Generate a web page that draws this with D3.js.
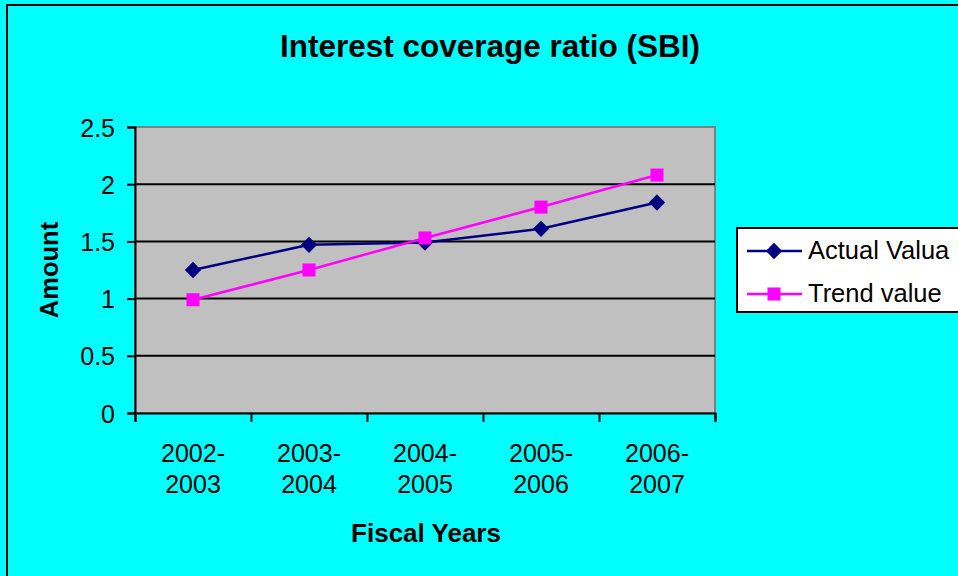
<!DOCTYPE html>
<html>
<head>
<meta charset="utf-8">
<script src="https://cdn.jsdelivr.net/npm/d3@7"></script>
<style>
  html, body { margin: 0; padding: 0; background: #00ffff; overflow: hidden; }
  svg { display: block; font-family: "Liberation Sans", Arial, sans-serif; }
</style>
</head>
<body>
<script>
var categories = ['2002-2003', '2003-2004', '2004-2005', '2005-2006', '2006-2007'];
var actualValues = [1.25, 1.47, 1.49, 1.61, 1.84];
var trendValues = [0.99, 1.25, 1.53, 1.80, 2.08];
var yTicks = [0, 0.5, 1, 1.5, 2, 2.5];
var seriesNames = ['Actual Valua', 'Trend value'];

var width = 958, height = 576;
var plot = { left: 135, right: 715, top: 127, bottom: 413 };

var svg = d3.select('body').append('svg')
    .attr('width', width)
    .attr('height', height);

// chart frame (runs off the right and bottom edge)
svg.append('rect')
    .attr('x', 7).attr('y', 5)
    .attr('width', 1000).attr('height', 700)
    .attr('fill', '#00ffff')
    .attr('stroke', '#000')
    .attr('stroke-width', 2);

var x = d3.scaleBand()
    .domain(categories)
    .range([plot.left, plot.right]);

var xEdge = d3.scaleLinear()
    .domain([0, categories.length])
    .range([plot.left, plot.right]);

var y = d3.scaleLinear()
    .domain([0, 2.5])
    .range([plot.bottom, plot.top]);

// plot area
svg.append('rect')
    .attr('x', plot.left).attr('y', plot.top)
    .attr('width', plot.right - plot.left)
    .attr('height', plot.bottom - plot.top)
    .attr('fill', '#c0c0c0')
    .attr('stroke', '#808080')
    .attr('stroke-width', 2);

// gridlines
svg.append('g')
    .selectAll('line')
    .data(yTicks.filter(d => d > 0 && d < 2.5))
    .enter().append('line')
    .attr('x1', plot.left).attr('x2', plot.right)
    .attr('y1', d => y(d)).attr('y2', d => y(d))
    .attr('stroke', '#000')
    .attr('stroke-width', 2);

// y axis
var yAxis = svg.append('g')
    .attr('transform', `translate(${plot.left},0)`)
    .call(d3.axisLeft(y).tickValues(yTicks).tickSize(8).tickPadding(12)
        .tickFormat(d => String(d)));
yAxis.select('.domain').attr('stroke', '#000').attr('stroke-width', 2);
yAxis.selectAll('.tick line').attr('stroke', '#000').attr('stroke-width', 2);
yAxis.selectAll('.tick text')
    .style('font-size', '25px')
    .attr('fill', '#000')
    .attr('dy', '0.36em');

// x axis: ticks between categories
var xAxis = svg.append('g')
    .attr('transform', `translate(0,${plot.bottom})`)
    .call(d3.axisBottom(xEdge).ticks(categories.length).tickSize(9).tickFormat(''));
xAxis.select('.domain').attr('stroke', '#000').attr('stroke-width', 2);
xAxis.selectAll('.tick line').attr('stroke', '#000').attr('stroke-width', 2);

// category labels, two lines each
var catLabel = svg.append('g')
    .selectAll('text')
    .data(categories)
    .enter().append('text')
    .attr('text-anchor', 'middle')
    .style('font-size', '25px')
    .attr('fill', '#000');
catLabel.append('tspan')
    .attr('x', d => x(d) + x.bandwidth() / 2)
    .attr('y', 462)
    .text(d => d.split('-')[0] + '-');
catLabel.append('tspan')
    .attr('x', d => x(d) + x.bandwidth() / 2)
    .attr('y', 493)
    .text(d => d.split('-')[1]);

// title and axis titles
svg.append('text')
    .attr('x', 490).attr('y', 57)
    .attr('text-anchor', 'middle')
    .style('font-size', '31.5px')
    .style('font-weight', 'bold')
    .text('Interest coverage ratio (SBI)');

svg.append('text')
    .attr('x', 426).attr('y', 542)
    .attr('text-anchor', 'middle')
    .style('font-size', '26px')
    .style('font-weight', 'bold')
    .text('Fiscal Years');

svg.append('text')
    .attr('transform', 'translate(58,270) rotate(-90)')
    .attr('text-anchor', 'middle')
    .style('font-size', '25.5px')
    .style('font-weight', 'bold')
    .text('Amount');

var cx = d => x(d) + x.bandwidth() / 2;
var line = d3.line()
    .x((d, i) => cx(categories[i]))
    .y(d => y(d));

var diamond = d3.symbol().type(d3.symbolDiamond2).size(170);
var square = d3.symbol().type(d3.symbolSquare).size(170);

// actual series
svg.append('path')
    .datum(actualValues)
    .attr('d', line)
    .attr('fill', 'none')
    .attr('stroke', '#000080')
    .attr('stroke-width', 2.5);

svg.append('g')
    .selectAll('path')
    .data(actualValues)
    .enter().append('path')
    .attr('d', diamond)
    .attr('transform', (d, i) => `translate(${cx(categories[i])},${y(d)})`)
    .attr('fill', '#000080');

// trend series
svg.append('path')
    .datum(trendValues)
    .attr('d', line)
    .attr('fill', 'none')
    .attr('stroke', '#ff00ff')
    .attr('stroke-width', 2.5);

svg.append('g')
    .selectAll('path')
    .data(trendValues)
    .enter().append('path')
    .attr('d', square)
    .attr('transform', (d, i) => `translate(${cx(categories[i])},${y(d)})`)
    .attr('fill', '#ff00ff');

// legend
var legend = svg.append('g');
legend.append('rect')
    .attr('x', 737).attr('y', 228)
    .attr('width', 300).attr('height', 84)
    .attr('fill', '#fff')
    .attr('stroke', '#000')
    .attr('stroke-width', 2);

var legendColors = ['#000080', '#ff00ff'];
var legendSymbols = [diamond, square];
var item = legend.selectAll('g.item')
    .data(seriesNames)
    .enter().append('g')
    .attr('class', 'item')
    .attr('transform', (d, i) => `translate(0,${251 + i * 43})`);

item.append('line')
    .attr('x1', 747).attr('x2', 802)
    .attr('stroke', (d, i) => legendColors[i])
    .attr('stroke-width', 2.5);
item.append('path')
    .attr('d', (d, i) => legendSymbols[i]())
    .attr('transform', 'translate(774,0)')
    .attr('fill', (d, i) => legendColors[i]);
item.append('text')
    .attr('x', 808).attr('y', 8)
    .style('font-size', '25.5px')
    .attr('fill', '#000')
    .text(d => d);
</script>
</body>
</html>
